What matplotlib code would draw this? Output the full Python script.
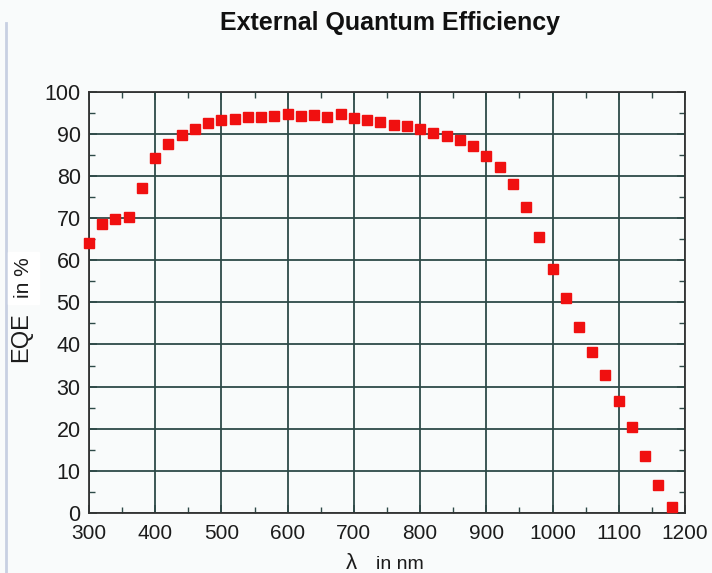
import matplotlib
matplotlib.use("Agg")
import matplotlib.pyplot as plt
from matplotlib.ticker import MultipleLocator
from matplotlib.lines import Line2D

plt.rcParams['font.family'] = ['Liberation Sans', 'DejaVu Sans']

# wavelength in nm, EQE in %
wavelength = [300, 320, 340, 360, 380, 400, 420, 440, 460, 480,
              500, 520, 540, 560, 580, 600, 620, 640, 660, 680,
              700, 720, 740, 760, 780, 800, 820, 840, 860, 880,
              900, 920, 940, 960, 980, 1000, 1020, 1040, 1060, 1080,
              1100, 1120, 1140, 1160, 1180]
eqe = [64.1, 68.6, 69.8, 70.2, 77.1, 84.4, 87.7, 89.8, 91.3, 92.6,
       93.3, 93.7, 94.0, 94.2, 94.4, 94.7, 94.4, 94.5, 94.2, 94.7,
       93.9, 93.4, 92.9, 92.3, 91.9, 91.3, 90.4, 89.6, 88.7, 87.2,
       84.9, 82.1, 78.1, 72.8, 65.5, 57.9, 51.0, 44.1, 38.3, 32.8,
       26.5, 20.4, 13.6, 6.5, 1.3]

grid_col = '#2e4a48'
bg = '#f9fbfb'

fig = plt.figure(figsize=(7.12, 5.73), dpi=100, facecolor=bg)
ax = fig.add_axes([0.125, 0.1052, 0.837, 0.734], facecolor=bg)

ax.plot(wavelength, eqe, 's', color='#f01010', markersize=7, clip_on=False, zorder=3)

ax.set_xlim(300, 1200)
ax.set_ylim(0, 100)
ax.xaxis.set_major_locator(MultipleLocator(100))
ax.xaxis.set_minor_locator(MultipleLocator(50))
ax.yaxis.set_major_locator(MultipleLocator(10))
ax.yaxis.set_minor_locator(MultipleLocator(5))
ax.grid(True, which='major', color=grid_col, linewidth=1.3)
ax.set_axisbelow(True)

ax.tick_params(which='both', direction='in', top=True, right=True, color=grid_col)
ax.tick_params(which='major', length=6, width=1.2)
ax.tick_params(which='minor', length=4, width=1.0)
ax.tick_params(axis='y', labelsize=15.5, pad=6, labelcolor='#1c1c1c')
ax.tick_params(axis='x', labelsize=15, pad=8, labelcolor='#1c1c1c')
for s in ax.spines.values():
    s.set_color('#333333')
    s.set_linewidth(1.3)

fig.text(0.548, 0.960, 'External Quantum Efficiency', ha='center', va='center',
         fontsize=18, fontweight='bold', color='#111111')

# y label: "EQE  in %"
fig.text(0.030, 0.412, 'EQE', rotation=90, ha='center', va='center',
         fontsize=17, color='#1c1c1c')
fig.text(0.033, 0.515, 'in %', rotation=90, ha='center', va='center',
         fontsize=15, color='#1c1c1c', backgroundcolor='white')

# x label: "λ  in nm"
fig.text(0.494, 0.017, 'λ', ha='center', va='center', fontsize=16, color='#1c1c1c')
fig.text(0.562, 0.015, 'in nm', ha='center', va='center', fontsize=14, color='#1c1c1c')

fig.add_artist(Line2D([0.009, 0.009], [0.0, 0.96], transform=fig.transFigure,
                      color='#c8d0e2', linewidth=2))

fig.savefig('out.png', dpi=100, facecolor=bg)
